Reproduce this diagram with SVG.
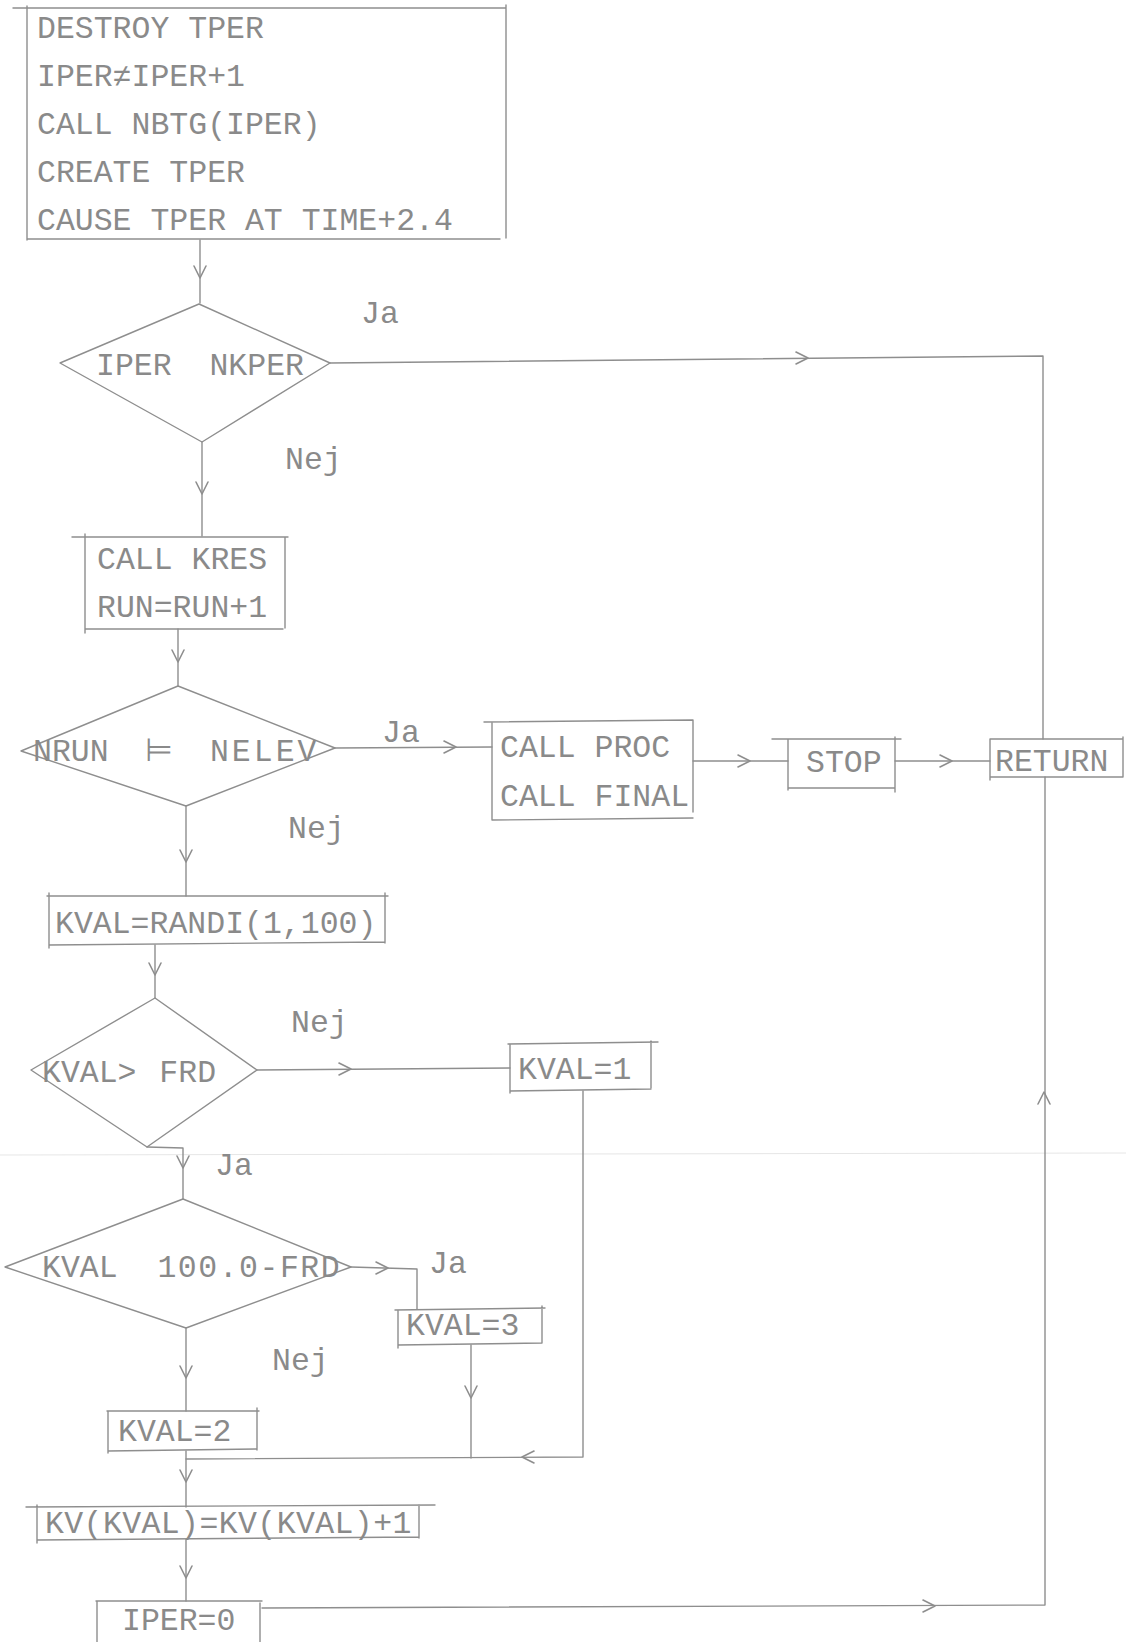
<svg xmlns="http://www.w3.org/2000/svg" width="1126" height="1642" viewBox="0 0 1126 1642">
<style>
.ln{fill:none;stroke:#8e8e8e;stroke-width:1.4;stroke-linecap:round;stroke-linejoin:round}
.ah{fill:none;stroke:#8e8e8e;stroke-width:1.6;stroke-linecap:round;stroke-linejoin:round}
.t{font-family:"Liberation Mono","DejaVu Sans Mono",monospace;font-size:31.5px;fill:#8a8a8a}
.scan{fill:none;stroke:#e6e6e6;stroke-width:1}
</style>
<defs>
<path id="ad" d="M-6,-12 L0,0 L6,-12"/>
<path id="ar" d="M-12,-6 L0,0 L-12,6"/>
<path id="al" d="M12,-6 L0,0 L12,6"/>
<path id="au" d="M-6,12 L0,0 L6,12"/>
</defs>
<rect width="1126" height="1642" fill="#ffffff"/>
<path class="scan" d="M0,1155 L1126,1153"/>

<g id="connectors">
<path class="ln" d="M200,240 V303"/>
<use href="#ad" class="ah" x="200" y="278"/>
<path class="ln" d="M330,363 L1043,356 V739"/>
<use href="#ar" class="ah" x="808" y="358"/>
<path class="ln" d="M202,442 V536"/>
<use href="#ad" class="ah" x="202" y="494"/>
<path class="ln" d="M178,629 V686"/>
<use href="#ad" class="ah" x="178" y="662"/>
<path class="ln" d="M335,748 L492,747"/>
<use href="#ar" class="ah" x="456" y="747"/>
<path class="ln" d="M693,761 H788"/>
<use href="#ar" class="ah" x="750" y="761"/>
<path class="ln" d="M895,761 H990"/>
<use href="#ar" class="ah" x="952" y="761"/>
<path class="ln" d="M186,806 V896"/>
<use href="#ad" class="ah" x="186" y="862"/>
<path class="ln" d="M155,945 V998"/>
<use href="#ad" class="ah" x="155" y="975"/>
<path class="ln" d="M257,1070 L510,1068"/>
<use href="#ar" class="ah" x="351" y="1069"/>
<path class="ln" d="M583,1091 V1457 L186,1459"/>
<use href="#al" class="ah" x="522" y="1457"/>
<path class="ln" d="M147,1147 L183,1148 V1199"/>
<use href="#ad" class="ah" x="183" y="1168"/>
<path class="ln" d="M351,1267 L417,1269 V1309"/>
<use href="#ar" class="ah" x="388" y="1268"/>
<path class="ln" d="M471,1345 V1458"/>
<use href="#ad" class="ah" x="471" y="1398"/>
<path class="ln" d="M186,1328 V1411"/>
<use href="#ad" class="ah" x="186" y="1378"/>
<path class="ln" d="M186,1451 V1507"/>
<use href="#ad" class="ah" x="186" y="1482"/>
<path class="ln" d="M186,1540 V1601"/>
<use href="#ad" class="ah" x="186" y="1578"/>
<path class="ln" d="M262,1608 L1045,1605 V777"/>
<use href="#ar" class="ah" x="935" y="1606"/>
<use href="#au" class="ah" x="1044" y="1092"/>
<text class="t" x="361" y="323">Ja</text>
<text class="t" x="285" y="469">Nej</text>
<text class="t" x="382" y="742">Ja</text>
<text class="t" x="288" y="838">Nej</text>
<text class="t" x="291" y="1032">Nej</text>
<text class="t" x="215" y="1175">Ja</text>
<text class="t" x="429" y="1273">Ja</text>
<text class="t" x="272" y="1370">Nej</text>
</g>

<g id="n1">
<path class="ln" d="M13,8 H506 M27,6 V240 M506,5 V238 M27,239 H500"/>
<text class="t" x="37" y="38">DESTROY TPER</text>
<text class="t" x="37" y="86">IPER≠IPER+1</text>
<text class="t" x="37" y="134">CALL NBTG(IPER)</text>
<text class="t" x="37" y="182">CREATE TPER</text>
<text class="t" x="37" y="230">CAUSE TPER AT TIME+2.4</text>
</g>

<g id="n2">
<polygon class="ln" points="60,363 199,304 330,363 202,442"/>
<text class="t" x="96" y="375" xml:space="preserve">IPER  NKPER</text>
</g>

<g id="n3">
<path class="ln" d="M72,537 H288 M85,534 V633 M285,538 V628 M85,629 H283"/>
<text class="t" x="97" y="569">CALL KRES</text>
<text class="t" x="97" y="617">RUN=RUN+1</text>
</g>

<g id="n4">
<polygon class="ln" points="21,751 178,686 335,748 186,806"/>
<text class="t" x="33" y="761" xml:space="preserve" dx="0 0 0 0 0 17 0 18.5 3 3 3 3">NRUN ⊨ NELEV</text>
</g>

<g id="n5">
<path class="ln" d="M484,722 L693,720 M492,722 V820 M693,720 V812 M492,820 L693,818"/>
<text class="t" x="500" y="757">CALL PROC</text>
<text class="t" x="500" y="806">CALL FINAL</text>
</g>

<g id="n6">
<path class="ln" d="M772,739 H901 M788,739 V790 M895,737 V792 M788,788 H895"/>
<text class="t" x="806" y="772">STOP</text>
</g>

<g id="n7">
<path class="ln" d="M990,739 H1123 M990,739 V780 M1123,737 V777 M990,777 H1123"/>
<text class="t" x="995" y="771">RETURN</text>
</g>

<g id="n8">
<path class="ln" d="M47,896 H388 M49,893 V948 M385,893 V943 M49,945 L385,942"/>
<text class="t" x="55" y="933">KVAL=RANDI(1,100)</text>
</g>

<g id="n9">
<polygon class="ln" points="31,1070 155,998 257,1070 147,1147"/>
<text class="t" x="42" y="1082" xml:space="preserve" dx="0 0 0 0 -10 -9 0 4">KVAL &gt; FRD</text>
</g>

<g id="n10">
<path class="ln" d="M508,1044 L658,1042 M510,1044 V1093 M651,1041 V1088 M510,1091 L651,1089"/>
<text class="t" x="518" y="1079">KVAL=1</text>
</g>

<g id="n11">
<polygon class="ln" points="5,1267 183,1199 351,1267 186,1328"/>
<text class="t" x="42" y="1277" xml:space="preserve" dx="0 0 0 0 0 0 2 1.5 1.5 1.5 1.5 1.5 1.5 1.5 1.5">KVAL  100.0-FRD</text>
</g>

<g id="n12">
<path class="ln" d="M395,1310 L545,1308 M398,1310 V1348 M542,1306 V1343 M398,1345 L542,1343"/>
<text class="t" x="406" y="1335">KVAL=3</text>
</g>

<g id="n13">
<path class="ln" d="M107,1411 H259 M108,1411 V1453 M257,1408 V1450 M108,1451 L257,1449"/>
<text class="t" x="118" y="1441">KVAL=2</text>
</g>

<g id="n14">
<path class="ln" d="M26,1507 L435,1505 M37,1505 V1543 M419,1505 V1538 M37,1540 L419,1537"/>
<text class="t" x="45" y="1533" letter-spacing="0.4">KV(KVAL)=KV(KVAL)+1</text>
</g>

<g id="n15">
<path class="ln" d="M96,1601 H262 M97,1601 V1642 M260,1603 V1642"/>
<text class="t" x="122" y="1630">IPER=0</text>
</g>
</svg>
